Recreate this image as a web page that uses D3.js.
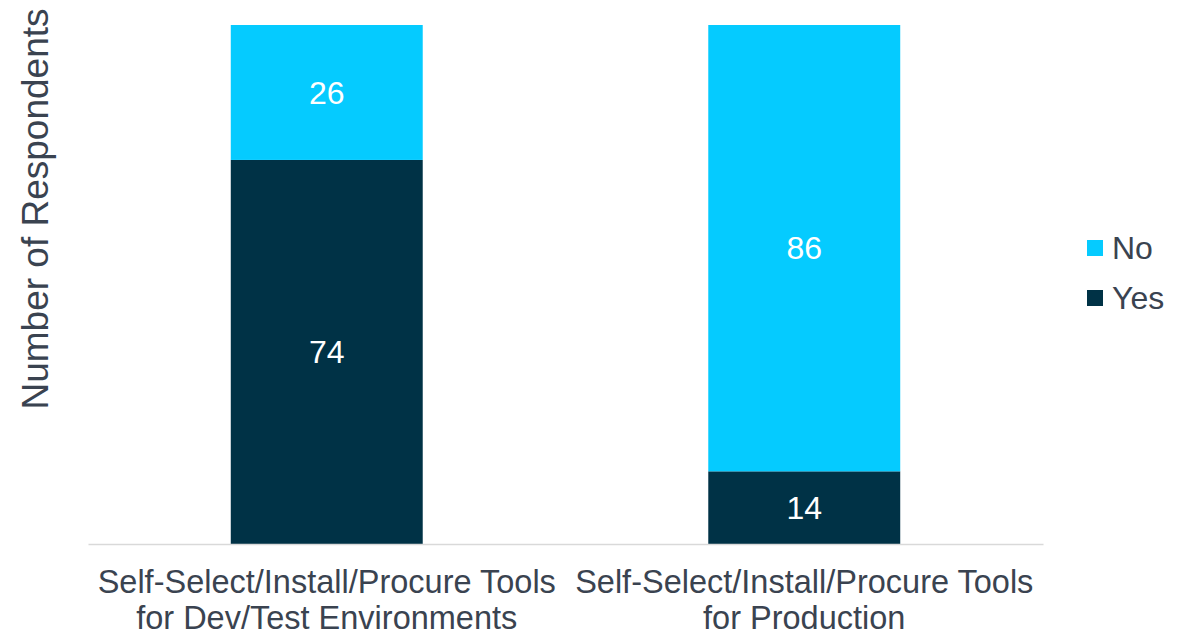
<!DOCTYPE html>
<html><head><meta charset="utf-8">
<script src="https://cdn.jsdelivr.net/npm/d3@7"></script>
<style>body{margin:0;background:#fff;}svg{display:block;font-family:"Liberation Sans",Arial,sans-serif;}</style>
</head><body>
<svg id="chart" width="1194" height="634"></svg>
<script>
const categories = [
  ["Self-Select/Install/Procure Tools", "for Dev/Test Environments"],
  ["Self-Select/Install/Procure Tools", "for Production"]
];
const seriesNames = ["Yes", "No"];
const yesValues = [74, 14];
const noValues = [26, 86];
const colors = {Yes: "#003246", No: "#05CBFF"};
const textColor = "#3A4350";

const svg = d3.select("#chart");
const catKeys = categories.map((c, i) => "c" + i);
const data = catKeys.map((k, i) => ({key: k, Yes: yesValues[i], No: noValues[i]}));
const stack = d3.stack().keys(seriesNames)(data);

const x = d3.scaleBand().domain(catKeys).range([88, 1043]).paddingInner(0.598).paddingOuter(0.299);
const y = d3.scaleLinear().domain([0, 100]).range([544, 25]);

svg.append("g").selectAll("g").data(stack).join("g")
  .attr("fill", d => colors[d.key])
  .selectAll("rect").data(d => d).join("rect")
  .attr("x", d => x(d.data.key))
  .attr("width", x.bandwidth())
  .attr("y", d => y(d[1]))
  .attr("height", d => y(d[0]) - y(d[1]));

// value labels
stack.forEach(s => {
  svg.append("g").selectAll("text").data(s).join("text")
    .attr("x", d => x(d.data.key) + x.bandwidth() / 2)
    .attr("y", d => (y(d[0]) + y(d[1])) / 2)
    .attr("dy", "0.35em")
    .attr("text-anchor", "middle")
    .attr("fill", "#fff")
    .attr("font-size", 32)
    .text(d => d[1] - d[0]);
});

// x axis
const xAxis = svg.append("g").attr("transform", "translate(0,544)")
  .call(d3.axisBottom(x).tickSize(0).tickFormat(""));
xAxis.select(".domain").attr("stroke", "#D9D9D9").attr("stroke-width", 1.5);
xAxis.selectAll(".tick text").remove();

// category labels
const catG = svg.append("g");
categories.forEach((lines, i) => {
  const cx = x(catKeys[i]) + x.bandwidth() / 2;
  const t = catG.append("text")
    .attr("x", cx)
    .attr("y", 593)
    .attr("text-anchor", "middle")
    .attr("fill", textColor)
    .attr("font-size", 32.5);
  lines.forEach((l, j) => t.append("tspan").attr("x", cx).attr("dy", j === 0 ? 0 : 36).text(l));
});

// y title
svg.append("text")
  .attr("transform", "translate(48,209) rotate(-90)")
  .attr("text-anchor", "middle")
  .attr("fill", textColor)
  .attr("font-size", 37)
  .text("Number of Respondents");

// legend
const legendItems = ["No", "Yes"];
const lg = svg.append("g").selectAll("g").data(legendItems).join("g")
  .attr("transform", (d, i) => `translate(1087,${240 + i * 50})`);
lg.append("rect").attr("width", 16).attr("height", 16).attr("fill", d => colors[d]);
lg.append("text").attr("x", 25).attr("y", 8).attr("dy", "0.35em")
  .attr("fill", textColor).attr("font-size", 32).text(d => d);
</script>
</body></html>
